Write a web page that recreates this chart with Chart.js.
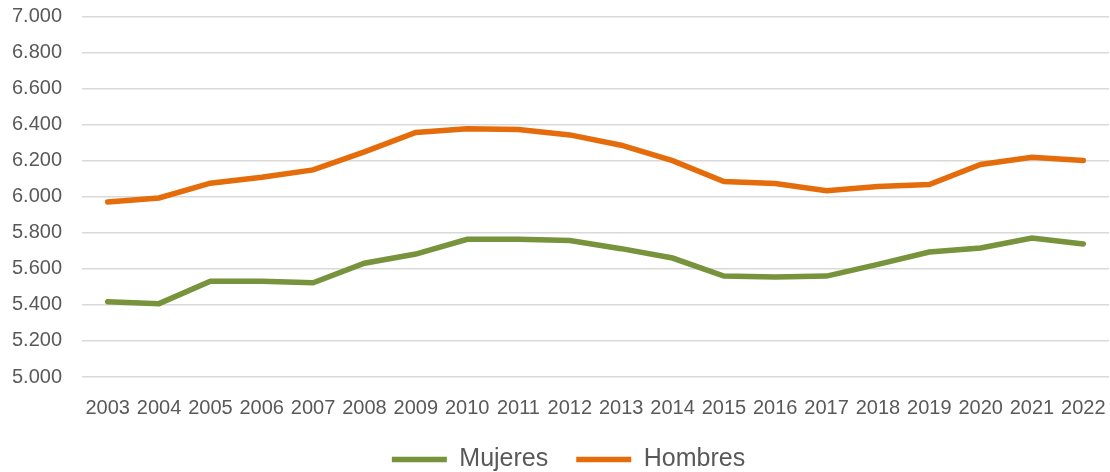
<!DOCTYPE html>
<html>
<head>
<meta charset="utf-8">
<script src="https://cdn.jsdelivr.net/npm/chart.js@4/dist/chart.umd.min.js"></script>
<style>
  html, body { margin: 0; padding: 0; background: #fff; }
  #wrap { width: 1110px; height: 472px; position: relative; }
</style>
</head>
<body>
<div id="wrap"><canvas id="lineChart"></canvas></div>
<script>
// datos
const years = ['2003', '2004', '2005', '2006', '2007', '2008', '2009', '2010', '2011', '2012',
  '2013', '2014', '2015', '2016', '2017', '2018', '2019', '2020', '2021', '2022'];
const mujeres = [5418, 5407, 5531, 5531, 5523, 5631, 5682, 5764, 5764, 5757,
  5712, 5660, 5560, 5555, 5560, 5625, 5693, 5716, 5771, 5738];
const hombres = [5971, 5993, 6075, 6108, 6149, 6249, 6357, 6377, 6373, 6343,
  6286, 6200, 6084, 6073, 6034, 6057, 6068, 6179, 6219, 6201];
const yMin = 5000, yMax = 7000, yStep = 200;

const textColor = '#595959';
const fontFamily = '"Liberation Sans", Arial, sans-serif';

// mueve la leyenda un poco a la derecha (centrada sobre el area del grafico)
const legendShift = {
  id: 'legendShift',
  afterLayout(chart) {
    if (!chart.legend) return;
    chart.legend.left += 14;
    chart.legend.right += 14;
  }
};

const ctx = document.getElementById('lineChart').getContext('2d');

new Chart(ctx, {
  type: 'line',
  data: {
    labels: years,
    datasets: [
      {
        label: 'Mujeres',
        data: mujeres,
        borderColor: '#77933C',
        backgroundColor: '#77933C',
        borderWidth: 5.5,
        borderCapStyle: 'round',
        pointRadius: 0,
        tension: 0,
        fill: false
      },
      {
        label: 'Hombres',
        data: hombres,
        borderColor: '#E46C0A',
        backgroundColor: '#E46C0A',
        borderWidth: 5.5,
        borderCapStyle: 'round',
        pointRadius: 0,
        tension: 0,
        fill: false
      }
    ]
  },
  options: {
    responsive: true,
    maintainAspectRatio: false,
    animation: false,
    layout: { padding: { left: 0, right: 1, top: 16.5, bottom: -10 } },
    scales: {
      x: {
        offset: true,
        grid: { display: false, drawTicks: false },
        border: { display: false },
        ticks: {
          color: textColor,
          font: { family: fontFamily, size: 20 },
          padding: 19.5,
          maxRotation: 0,
          autoSkip: false
        },
        afterFit: (axis) => {
          axis.height = 42;
          axis.paddingLeft = 0;
          axis.paddingRight = 0;
        }
      },
      y: {
        min: yMin,
        max: yMax,
        border: { display: false },
        grid: { color: '#D9D9D9', lineWidth: 1.5, drawTicks: false },
        ticks: {
          stepSize: yStep,
          color: textColor,
          font: { family: fontFamily, size: 20 },
          padding: 20,
          callback: (v) => v.toLocaleString('de-DE')
        },
        afterFit: (axis) => {
          axis.width = 82;
          axis.paddingTop = 0;
          axis.paddingBottom = 0;
        }
      }
    },
    plugins: {
      legend: {
        position: 'bottom',
        labels: {
          color: textColor,
          font: { family: fontFamily, size: 25 },
          usePointStyle: true,
          pointStyle: 'line',
          pointStyleWidth: 55,
          padding: 28
        }
      },
      tooltip: { enabled: false }
    }
  },
  plugins: [legendShift]
});
</script>
</body>
</html>
